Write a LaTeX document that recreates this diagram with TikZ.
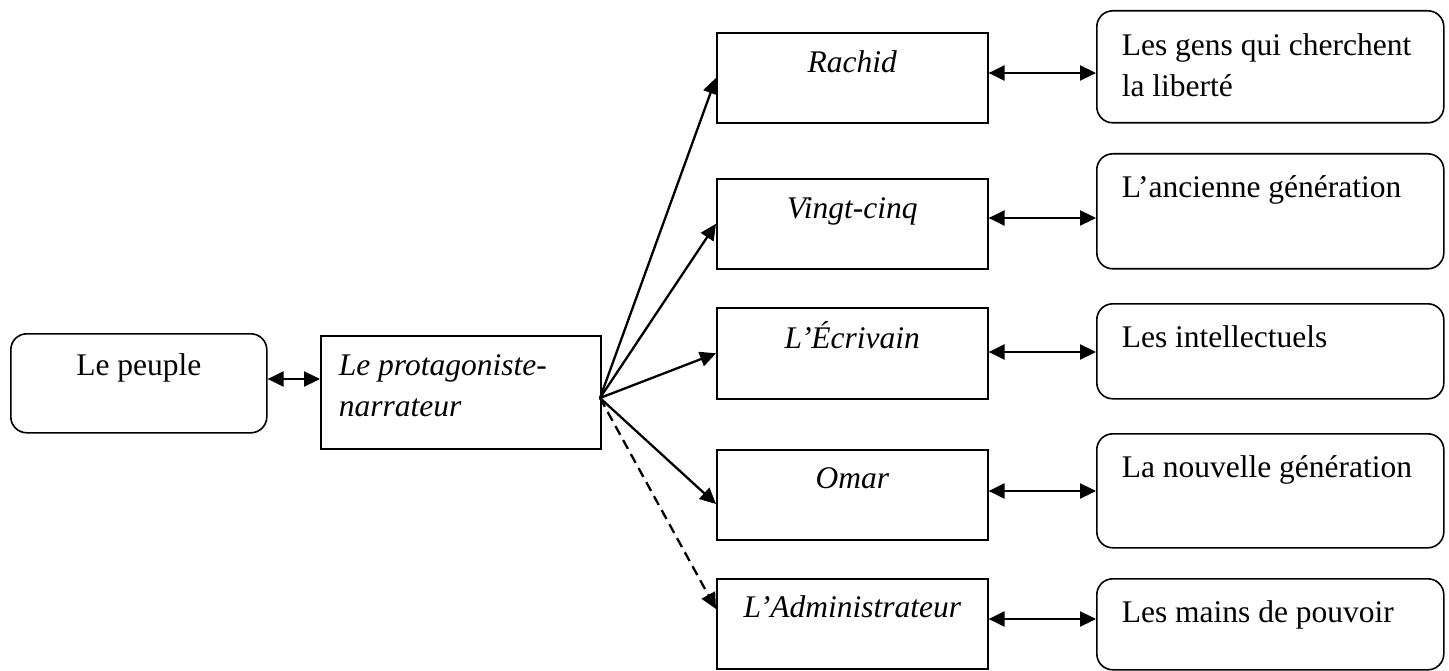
\documentclass[tikz,border=0pt]{standalone}
\usepackage{fontspec}
\setmainfont{Liberation Serif}
\usetikzlibrary{arrows.meta}
\newcommand{\bxt}[5]{\begin{minipage}[t][#2pt][t]{#1pt}#4\rule{0pt}{#3pt}#5\end{minipage}}
\tikzset{
  sq/.style={draw, line width=1.6pt, inner sep=0pt, anchor=north west, font=\fontsize{31.5}{41}\selectfont},
  rd/.style={sq, rounded corners=16pt},
  ar/.style={line width=2.3pt, -{Triangle[length=16pt,width=15pt]}},
  dar/.style={line width=2.3pt, {Triangle[length=16pt,width=15pt]}-{Triangle[length=16pt,width=15pt]}},
  dsh/.style={ar, dash pattern=on 10pt off 6pt}
}
\begin{document}
\begin{tikzpicture}[x=1pt,y=1pt]
\useasboundingbox (0,0) rectangle (1449,-671);
% left
\node[rd] (peuple) at (10,-333) {\bxt{256}{99}{42}{\centering}{Le peuple}};
\node[sq] (prot) at (320,-335) {\bxt{280}{113}{40}{\raggedright\leftskip=18pt}{\itshape Le protagoniste-\\narrateur}};
% middle
\node[sq] (rachid) at (716,-32) {\bxt{271}{90}{40}{\centering}{\itshape Rachid}};
\node[sq] (vingt) at (716,-178) {\bxt{271}{90}{40}{\centering}{\itshape Vingt-cinq}};
\node[sq] (ecri) at (716,-307) {\bxt{271}{91}{41}{\centering}{\itshape L’Écrivain}};
\node[sq] (omar) at (716,-449) {\bxt{271}{90}{39}{\centering}{\itshape Omar}};
\node[sq] (admin) at (716,-578) {\bxt{271}{90}{39}{\centering}{\itshape L’Administrateur}};
% right
\node[rd] (r1) at (1096,-10) {\bxt{347}{112}{45}{\raggedright\leftskip=25pt}{Les gens qui cherchent\\la liberté}};
\node[rd] (r2) at (1096,-153) {\bxt{347}{115}{44}{\raggedright\leftskip=25pt}{L’ancienne génération}};
\node[rd] (r3) at (1096,-303) {\bxt{347}{95}{44}{\raggedright\leftskip=25pt}{Les intellectuels}};
\node[rd] (r4) at (1096,-433) {\bxt{347}{114}{44}{\raggedright\leftskip=25pt}{La nouvelle génération}};
\node[rd] (r5) at (1096,-578) {\bxt{347}{91}{44}{\raggedright\leftskip=25pt}{Les mains de pouvoir}};
% connectors
\coordinate (fan) at (600,-398);
\draw[dar] (peuple.east |- 0,-379) -- (prot.west |- 0,-379);
\draw[ar] (fan) -- (rachid.west);
\draw[ar] (fan) -- (vingt.west);
\draw[ar] (fan) -- (ecri.west);
\draw[ar] (fan) -- (omar.west |- 0,-504);
\draw[dsh] (fan) -- (admin.west |- 0,-609);
\draw[dar] (rachid.east |- 0,-73) -- (r1.west |- 0,-73);
\draw[dar] (vingt.east |- 0,-218) -- (r2.west |- 0,-218);
\draw[dar] (ecri.east |- 0,-352) -- (r3.west |- 0,-352);
\draw[dar] (omar.east |- 0,-491) -- (r4.west |- 0,-491);
\draw[dar] (admin.east |- 0,-619) -- (r5.west |- 0,-619);
\end{tikzpicture}
\end{document}
